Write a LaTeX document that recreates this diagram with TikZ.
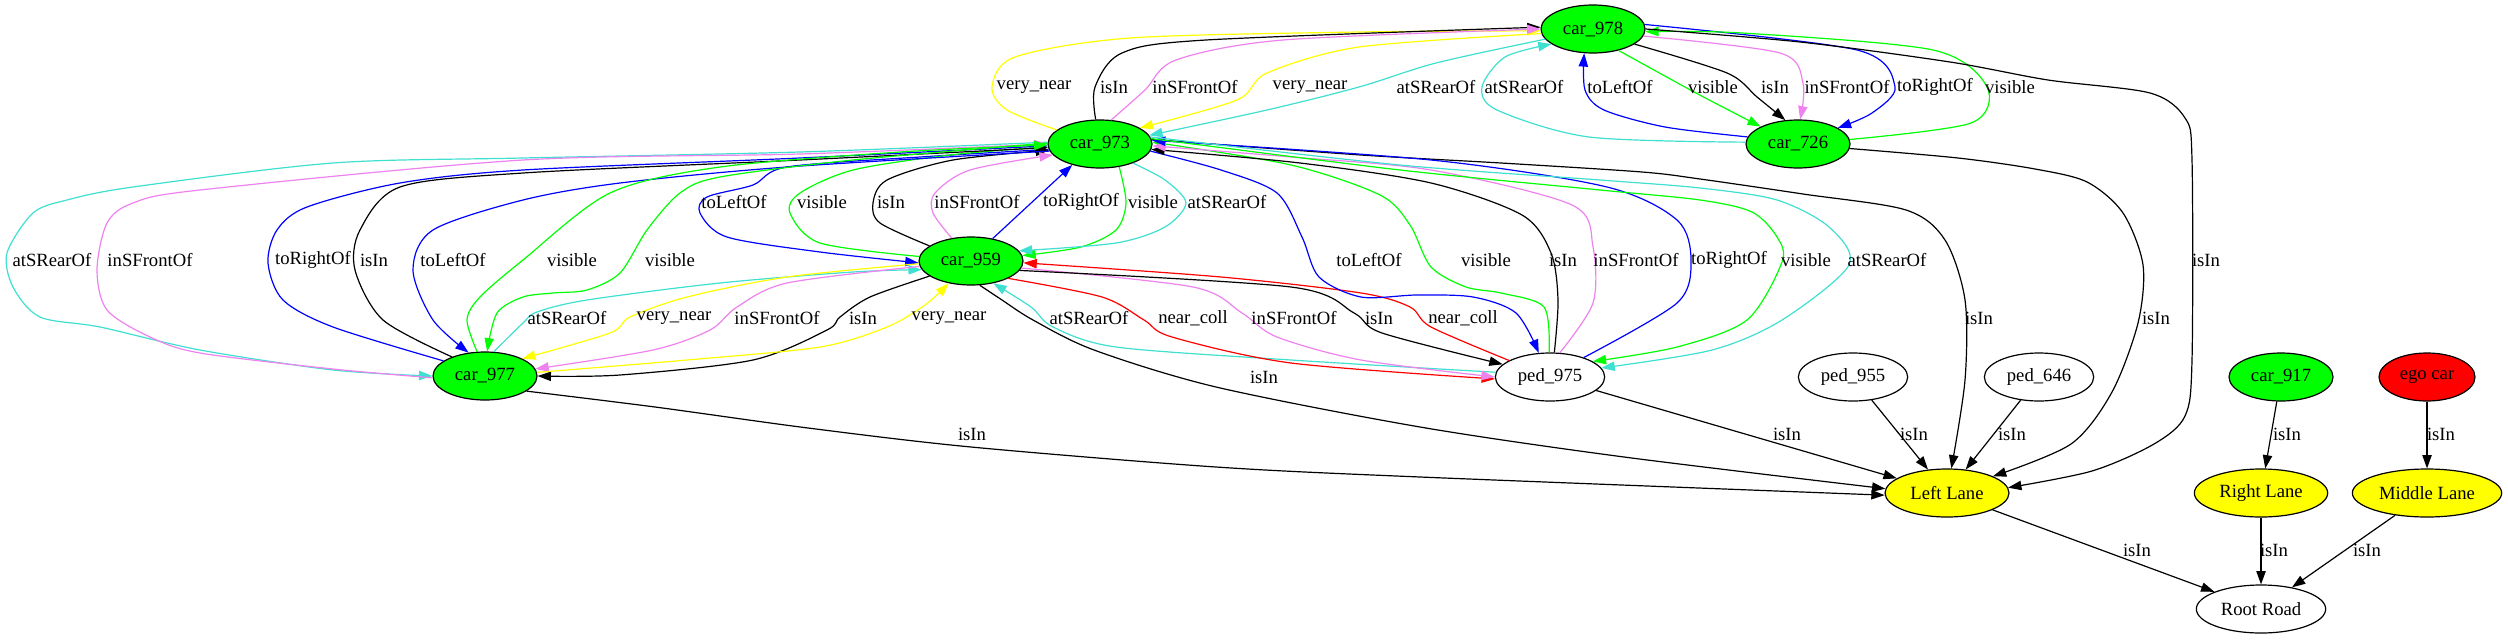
\documentclass[tikz,border=0pt]{standalone}
\usepackage{fontspec}
\setmainfont{Liberation Serif}
\usetikzlibrary{shapes.geometric,arrows.meta}
\definecolor{gvgreen}{HTML}{00FF00}
\definecolor{gvyellow}{HTML}{FFFF00}
\definecolor{gvviolet}{HTML}{EE82EE}
\definecolor{gvturq}{HTML}{40E0D0}
\definecolor{gvblue}{HTML}{0000FF}
\definecolor{gvred}{HTML}{FF0000}
\newcommand\gvfont{\fontsize{14pt}{16pt}\selectfont}
\tikzset{
  gnode/.style={ellipse, draw=black, line width=0.9pt, inner sep=0pt, minimum height=36pt, font=\gvfont},
  carn/.style={gnode, fill=gvgreen, minimum width=78pt},
  pedn/.style={gnode, fill=white, minimum width=82pt},
  lane/.style={gnode, fill=gvyellow},
  lbl/.style={font=\gvfont, inner sep=0pt},
  ed/.style={-{Triangle[length=10pt,width=7pt]}, line width=0.9pt},
  kI/.style={ed, draw=black},
  kY/.style={ed, draw=gvyellow},
  kV/.style={ed, draw=gvviolet},
  kT/.style={ed, draw=gvturq},
  kB/.style={ed, draw=gvblue},
  kG/.style={ed, draw=gvgreen},
  kR/.style={ed, draw=gvred},
}
\begin{document}
\begin{tikzpicture}[x=0.75pt, y=-0.75pt]
\path[use as bounding box, fill=white] (0,0) rectangle (2508,639);
% nodes
\node[carn] (c978) at (1593,29) {car\_978};
\node[carn] (c973) at (1100,144) {car\_973};
\node[carn] (c726) at (1798,144) {car\_726};
\node[carn] (c959) at (971,261) {car\_959};
\node[carn] (c977) at (485,376) {car\_977};
\node[pedn] (p975) at (1550,377) {ped\_975};
\node[pedn] (p955) at (1853,377) {ped\_955};
\node[pedn] (p646) at (2039,377) {ped\_646};
\node[carn] (c917) at (2281,377) {car\_917};
\node[gnode, fill=gvred, minimum width=72pt] (ego) at (2427,377) {ego car};
\node[lane, minimum width=93pt] (LL) at (1947,493) {Left Lane};
\node[lane, minimum width=100pt] (RL) at (2261,493) {Right Lane};
\node[lane, minimum width=112pt] (ML) at (2427,493) {Middle Lane};
\node[gnode, fill=white, minimum width=97pt] (RR) at (2261,609) {Root Road};

% car_973 <-> car_978
\draw[kY] plot[smooth] coordinates {(c973.162) (1007,110) (992,87) (1015,57) (1130,38) (1359,32) (c978.182)};
\draw[kI] plot[smooth] coordinates {(c973.100) (1095,87) (1122,53) (1206,40) (c978.178)};
\draw[kV] plot[smooth] coordinates {(c973.65) (1145,90) (1176,60) (1283,40) (c978.180)};
\draw[kY] plot[smooth] coordinates {(c978.185) (1359,47) (1267,73) (1237,100) (c973.22)};
\draw[kT] plot[smooth] coordinates {(c978.192) (1436,63) (1359,87) (1267,110) (c973.10)};
% car_978 <-> car_726
\draw[kT] plot[smooth] coordinates {(c726.178) (1589,137) (1497,110) (1482,87) (1505,57) (c978.200)};
\draw[kB] plot[smooth] coordinates {(c726.172) (1665,127) (1604,110) (1585,90) (c978.250)};
\draw[kG] plot[smooth] coordinates {(c978.320) (1696,93) (c726.155)};
\draw[kI] plot[smooth] coordinates {(c978.340) (1727,73) (1757,97) (c726.118)};
\draw[kV] plot[smooth] coordinates {(c978.352) (1780,53) (1803,83) (c726.85)};
\draw[kB] plot[smooth] coordinates {(c978.5) (1857,50) (1895,87) (1872,113) (c726.22)};
\draw[kG] plot[smooth] coordinates {(c726.5) (1971,123) (1987,87) (1933,50) (1742,33) (c978.357)};
% to Left Lane (long)
\draw[kI] plot[smooth] coordinates {(c978.0) (1800,42) (1950,62) (2048,80) (2150,93) (2185,118) (2192,160) (2192,360) (2185,416) (2154,444) (2092,471) (LL.5)};
\draw[kI] plot[smooth] coordinates {(c726.355) (1958,158) (2035,169) (2087,182) (2123,213) (2143,265) (2138,323) (2112,392) (2071,444) (LL.20)};
\draw[kI] plot[smooth] coordinates {(c973.5) (1361,155) (1501,163) (1642,172) (1700,179) (1803,194) (1906,210) (1945,240) (1965,300) (1965,380) (LL.80)};
% car_973 <-> car_959
\draw[kB] plot[smooth] coordinates {(c973.186) (920,157) (787,167) (753,185) (707,197) (700,213) (727,237) (820,252) (c959.182)};
\draw[kG] plot[smooth] coordinates {(c959.175) (820,243) (790,213) (800,193) (853,170) (950,155) (c973.183)};
\draw[kI] plot[smooth] coordinates {(c959.160) (880,223) (873,203) (887,180) (953,160) (c973.187)};
\draw[kV] plot[smooth] coordinates {(c959.130) (933,213) (935,193) (970,170) (c973.193)};
\draw[kB] (c959.46) -- (c973.217);
\draw[kG] plot[smooth] coordinates {(c973.310) (1126,203) (1116,230) (1081,247) (c959.6)};
\draw[kT] plot[smooth] coordinates {(c973.330) (1165,180) (1186,203) (1165,227) (1116,243) (c959.12)};
% car_973 <-> car_977
\draw[kT] plot[smooth] coordinates {(c973.178) (800,152) (523,158) (333,163) (133,187) (67,200) (33,213) (7,253) (13,287) (40,317) (100,327) (200,350) (333,370) (c977.180)};
\draw[kV] plot[smooth] coordinates {(c977.182) (333,369) (200,353) (150,337) (107,310) (97,270) (107,223) (133,203) (200,190) (523,160) (800,154) (c973.180)};
\draw[kB] plot[smooth] coordinates {(c977.160) (333,327) (283,300) (268,263) (277,230) (307,207) (400,183) (523,170) (800,158) (c973.182)};
\draw[kI] plot[smooth] coordinates {(c977.150) (383,320) (355,270) (360,230) (400,187) (523,173) (800,160) (c973.184)};
\draw[kB] plot[smooth] coordinates {(c973.188) (787,167) (620,183) (523,200) (433,230) (413,270) (433,320) (c977.125)};
\draw[kG] plot[smooth] coordinates {(c977.108) (467,320) (480,297) (523,260) (610,193) (720,167) (900,152) (c973.181)};
\draw[kG] plot[smooth] coordinates {(c973.179) (853,160) (720,177) (680,193) (647,230) (620,273) (587,290) (553,293) (523,297) (497,313) (c977.85)};
% car_959 <-> car_977
\draw[kT] plot[smooth] coordinates {(c977.70) (523,323) (537,312) (587,300) (720,283) (853,272) (c959.190)};
\draw[kY] plot[smooth] coordinates {(c959.183) (787,277) (687,297) (630,317) (610,333) (c977.25)};
\draw[kV] plot[smooth] coordinates {(c959.186) (787,283) (737,307) (710,330) (653,350) (c977.8)};
\draw[kI] plot[smooth] coordinates {(c959.200) (870,297) (840,317) (827,330) (753,360) (620,375) (c977.0)};
\draw[kY] plot[smooth] coordinates {(c977.4) (687,360) (820,347) (887,327) (925,305) (c959.225)};
% car_959 <-> ped_975
\draw[kT] plot[smooth] coordinates {(p975.175) (1291,360) (1116,347) (1053,327) (1031,307) (c959.315)};
\draw[kR] plot[smooth] coordinates {(c959.335) (1102,297) (1144,320) (1172,337) (1291,363) (p975.182)};
\draw[kV] plot[smooth] coordinates {(c959.352) (1193,287) (1242,313) (1277,337) (1361,360) (p975.180)};
\draw[kI] plot[smooth] coordinates {(c959.349) (1291,287) (1354,313) (1382,333) (p975.165)};
\draw[kR] plot[smooth] coordinates {(p975.158) (1431,327) (1410,307) (1361,293) (1221,277) (c959.358)};
% to Left Lane
\draw[kI] plot[smooth] coordinates {(c959.290) (1002,300) (1033,320) (1094,350) (1216,387) (1420,427) (1624,457) (LL.176)};
\draw[kI] plot[smooth] coordinates {(c977.340) (655,407) (808,428) (971,447) (1216,467) (1420,477) (LL.182)};
\draw[kI] (p975) -- (LL);
% car_973 <-> ped_975
\draw[kB] plot[smooth] coordinates {(c973.352) (1221,170) (1277,193) (1302,237) (1319,277) (1361,297) (1417,295) (1473,297) (1516,313) (p975.115)};
\draw[kG] plot[smooth] coordinates {(p975.92) (1544,307) (1501,293) (1466,287) (1431,267) (1410,225) (1380,195) (1291,165) (c973.2)};
\draw[kI] plot[smooth] coordinates {(p975.80) (1558,300) (1551,253) (1522,215) (1431,183) (1300,163) (c973.354)};
\draw[kV] plot[smooth] coordinates {(p975.68) (1593,303) (1593,247) (1572,205) (1431,170) (1291,157) (c973.358)};
\draw[kB] plot[smooth] coordinates {(p975.30) (1677,303) (1691,260) (1677,220) (1607,187) (1431,160) (c973.4)};
\draw[kG] plot[smooth] coordinates {(c973.6) (1400,170) (1600,190) (1700,200) (1752,212) (1777,237) (1782,262) (1747,320) (1677,347) (p975.20)};
\draw[kT] plot[smooth] coordinates {(c973.8) (1400,165) (1600,180) (1700,188) (1777,200) (1829,227) (1849,265) (1782,320) (1712,350) (p975.10)};
% small edges
\draw[kI] (p955) -- (LL);
\draw[kI] (p646) -- (LL);
\draw[kI] (c917) -- (RL);
\draw[kI] (ego) -- (ML);
\draw[kI] (LL) -- (RR);
\draw[kI] (RL) -- (RR);
\draw[kI] (ML) -- (RR);

% labels
\node[lbl] (t1) at (1034,87) {very\_near};
\node[lbl] (t2) at (1114,87) {isIn};
\node[lbl] (t3) at (1195,87) {inSFrontOf};
\node[lbl] (t4) at (1310,87) {very\_near};
\node[lbl] (t5) at (1436,87) {atSRearOf};
\node[lbl] (t6) at (1524,87) {atSRearOf};
\node[lbl] (t7) at (1620,87) {toLeftOf};
\node[lbl] (t8) at (1713,87) {visible};
\node[lbl] (t9) at (1775,87) {isIn};
\node[lbl] (t10) at (1847,87) {inSFrontOf};
\node[lbl] (t11) at (1935,87) {toRightOf};
\node[lbl] (t12) at (2010,87) {visible};
\node[lbl] (t13) at (734,202) {toLeftOf};
\node[lbl] (t14) at (822,202) {visible};
\node[lbl] (t15) at (891,202) {isIn};
\node[lbl] (t16) at (977,202) {inSFrontOf};
\node[lbl] (t17) at (1081,202) {toRightOf};
\node[lbl] (t18) at (1153,202) {visible};
\node[lbl] (t19) at (1227,202) {atSRearOf};
\node[lbl] (t20) at (52,260) {atSRearOf};
\node[lbl] (t21) at (150,260) {inSFrontOf};
\node[lbl] (t22) at (313,260) {toRightOf};
\node[lbl] (t23) at (374,260) {isIn};
\node[lbl] (t24) at (453,260) {toLeftOf};
\node[lbl] (t25) at (572,260) {visible};
\node[lbl] (t26) at (670,260) {visible};
\node[lbl] (t27) at (1369,260) {toLeftOf};
\node[lbl] (t28) at (1486,260) {visible};
\node[lbl] (t29) at (1563,260) {isIn};
\node[lbl] (t30) at (1636,260) {inSFrontOf};
\node[lbl] (t31) at (1729,260) {toRightOf};
\node[lbl] (t32) at (1806,260) {visible};
\node[lbl] (t33) at (1887,260) {atSRearOf};
\node[lbl] (t34) at (2206,260) {isIn};
\node[lbl] (t35) at (567,318) {atSRearOf};
\node[lbl] (t36) at (674,318) {very\_near};
\node[lbl] (t37) at (777,318) {inSFrontOf};
\node[lbl] (t38) at (863,318) {isIn};
\node[lbl] (t39) at (949,318) {very\_near};
\node[lbl] (t40) at (1089,318) {atSRearOf};
\node[lbl] (t41) at (1193,318) {near\_coll};
\node[lbl] (t42) at (1294,318) {inSFrontOf};
\node[lbl] (t43) at (1379,318) {isIn};
\node[lbl] (t44) at (1463,318) {near\_coll};
\node[lbl] (t45) at (1979,318) {isIn};
\node[lbl] (t46) at (2156,318) {isIn};
\node[lbl] (t47) at (1264,377) {isIn};
\node[lbl] (t48) at (972,434) {isIn};
\node[lbl] (t49) at (1787,434) {isIn};
\node[lbl] (t50) at (1914,434) {isIn};
\node[lbl] (t51) at (2012,434) {isIn};
\node[lbl] (t52) at (2287,434) {isIn};
\node[lbl] (t53) at (2441,434) {isIn};
\node[lbl] (t54) at (2137,550) {isIn};
\node[lbl] (t55) at (2274,550) {isIn};
\node[lbl] (t56) at (2367,550) {isIn};
\end{tikzpicture}
\end{document}
